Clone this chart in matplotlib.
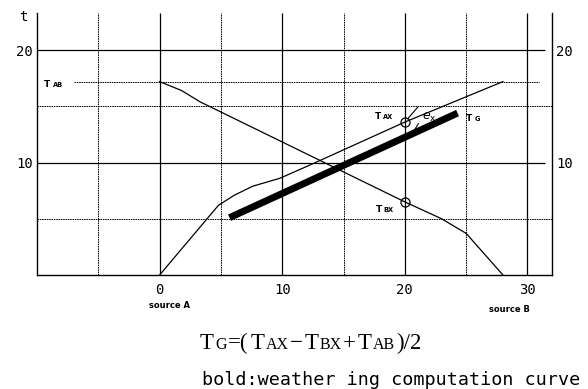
import matplotlib
matplotlib.use("Agg")
import matplotlib.pyplot as plt
from matplotlib.offsetbox import TextArea, HPacker, AnnotationBbox

# distance along the line (x) and temperature t
xa = [0, 4.8, 6.1, 7.6, 9.8, 12.3, 20, 28]
ta = [0, 6.2, 7.1, 7.9, 8.6, 9.8, 13.6, 17.2]
xb = [0, 1.8, 3.3, 20, 23, 25, 28]
tb = [17.2, 16.4, 15.4, 6.5, 5.0, 3.7, 0]
xg = [5.7, 24.3]
tg = [5.1, 14.4]

t_ab = 17.2
x_obs = 20
t_ax = 13.6
t_bx = 6.5

major_x = [0, 10, 20, 30]
minor_x = [-5, 5, 15, 25]
major_y = [10, 20]
minor_y = [5, 15]

MONO = "DejaVu Sans Mono"
SERIF = "Liberation Serif"


def sub_label(pieces, sep=1.5):
    """Big letter followed by small caps, sharing one baseline"""
    boxes = [TextArea(s, textprops=dict(size=sz, family=fam, weight=w))
             for s, sz, fam, w in pieces]
    return HPacker(children=boxes, align="baseline", pad=0, sep=sep)


def place(ax, box, xy, coords="data", align=(0, 0.5)):
    ab = AnnotationBbox(box, xy, xycoords=coords, box_alignment=align,
                        frameon=False, pad=0, annotation_clip=False)
    ax.add_artist(ab)


fig = plt.figure(figsize=(5.88, 3.89), dpi=100)
ax = fig.add_axes([37 / 588, 114 / 389, 515 / 588, 262 / 389])
ax.set_xlim(-10, 32)
ax.set_ylim(0, 23.3)

# grid
dash = [(0, (1.6, 0.8))]
ax.vlines(major_x, 0, 23.3, color="k", lw=0.9)
ax.vlines(minor_x, 0, 23.3, color="k", lw=0.7, linestyles=dash)
ax.hlines(major_y, -10, 31.4, color="k", lw=0.9)
ax.hlines(minor_y, -10, 32, color="k", lw=0.7, linestyles=dash)
ax.hlines([t_ab], -7, 30.9, color="k", lw=0.7, linestyles=dash)

# curves
ax.plot(xa, ta, color="k", lw=0.9)
ax.plot(xb, tb, color="k", lw=0.9)
ax.plot(xg, tg, color="k", lw=5, solid_capstyle="butt")
ax.plot([x_obs, x_obs], [t_ax, t_bx], "o", mfc="none", mec="k", ms=6.5, mew=0.9)

# e_x pointer strokes
ax.annotate("", xy=(x_obs, t_ax), xytext=(9.5, 11), textcoords="offset points",
            arrowprops=dict(arrowstyle="-", lw=0.8, shrinkA=0, shrinkB=3))
g_at = tg[0] + (tg[1] - tg[0]) * (20.6 - xg[0]) / (xg[1] - xg[0])
ax.annotate("", xy=(20.6, g_at), xytext=(4.5, 7.5), textcoords="offset points",
            arrowprops=dict(arrowstyle="-", lw=0.8, shrinkA=0, shrinkB=3))

# axes frame
for side in ["left", "right", "bottom"]:
    ax.spines[side].set_linewidth(1.0)
ax.spines["top"].set_visible(False)

ax.set_xticks(major_x)
ax.set_xticklabels([str(v) for v in major_x], family=MONO, size=10)
ax.set_yticks(major_y)
ax.set_yticklabels([str(v) for v in major_y], family=MONO, size=10)
ax.tick_params(axis="x", length=0, pad=6)
ax.tick_params(axis="y", length=0, pad=3, labelright=True)
ax.text(-11.1, 22.9, "t", family=MONO, size=10, ha="center", va="center")

ax.text(0.8, -2.75, "source A", size=6, weight="bold", ha="center", va="center")
ax.text(28.5, -3.1, "source B", size=6, weight="bold", ha="center", va="center")

# curve labels
small = "DejaVu Sans"
place(ax, sub_label([("T", 6.5, small, "bold"), ("AB", 4.8, small, "bold")], sep=2),
      (-9.45, 16.9))
place(ax, sub_label([("T", 6.5, small, "bold"), ("AX", 4.8, small, "bold")], sep=1.5),
      (17.55, 14.1))
place(ax, sub_label([("T", 6.5, small, "bold"), ("BX", 4.8, small, "bold")], sep=1.5),
      (17.6, 5.8))
place(ax, sub_label([("T", 6.5, small, "bold"), ("G", 4.8, small, "bold")], sep=2),
      (24.95, 13.9))
ax.text(21.4, 14.0, r"$e_{\rm x}$", size=9, ha="left", va="center")

# formula and caption below
formula = [("T", 16.5, SERIF, "normal"), ("G", 11.5, SERIF, "normal"),
           ("=(", 16.5, SERIF, "normal"), ("T", 16.5, SERIF, "normal"),
           ("AX", 11.5, SERIF, "normal"), ("\u2212", 16.5, SERIF, "normal"),
           ("T", 16.5, SERIF, "normal"), ("BX", 11.5, SERIF, "normal"),
           ("+", 16.5, SERIF, "normal"), ("T", 16.5, SERIF, "normal"),
           ("AB", 11.5, SERIF, "normal"), (")/2", 16.5, SERIF, "normal")]
place(ax, sub_label(formula, sep=1.0), (200 / 588, 35 / 389),
      coords="figure fraction", align=(0, 0))
fig.text(202 / 588, 4 / 389, "bold:weather ing computation curve",
         family=MONO, size=13.2, ha="left", va="baseline")

fig.savefig("out.png", dpi=100)
